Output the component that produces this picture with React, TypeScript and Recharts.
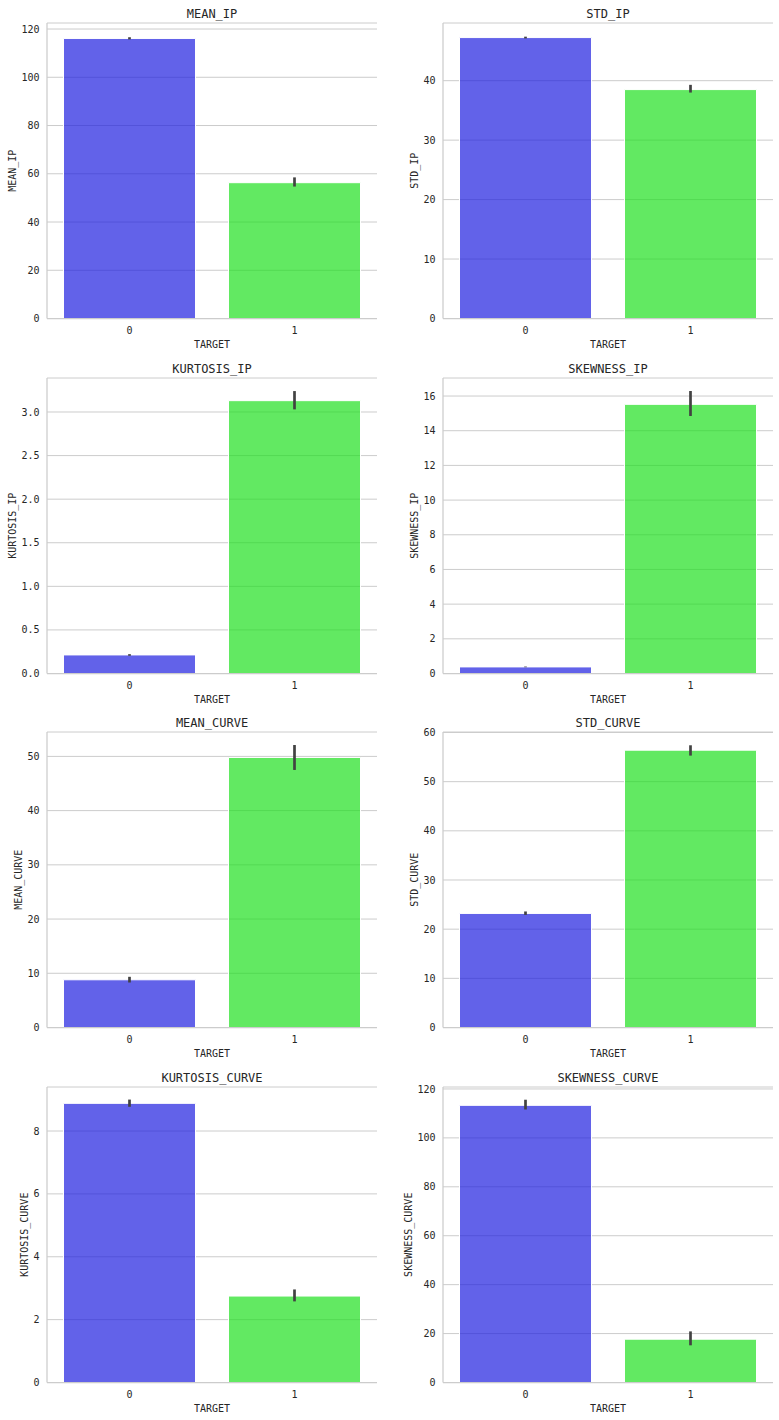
import React from "react";
import { BarChart, Bar, Cell, XAxis, YAxis, CartesianGrid, ErrorBar } from "recharts";

// class labels on the x axis
const TARGETS = ["0", "1"];

// one panel per feature
const FEATURES = [
  "MEAN_IP",
  "STD_IP",
  "KURTOSIS_IP",
  "SKEWNESS_IP",
  "MEAN_CURVE",
  "STD_CURVE",
  "KURTOSIS_CURVE",
  "SKEWNESS_CURVE",
];

// bar heights (mean) for TARGET = 0 and TARGET = 1
const MEAN_0 = [116.1, 47.25, 0.213, 0.38, 8.8, 23.2, 8.88, 113.3];
const MEAN_1 = [56.3, 38.5, 3.13, 15.52, 49.8, 56.4, 2.75, 17.7];

// confidence interval ends
const CI_LOW_0 = [115.7, 47.1, 0.203, 0.36, 8.3, 22.9, 8.77, 111.6];
const CI_HIGH_0 = [116.6, 47.4, 0.222, 0.4, 9.35, 23.6, 9.0, 115.6];
const CI_LOW_1 = [54.7, 38.0, 3.03, 14.85, 47.5, 55.3, 2.58, 15.2];
const CI_HIGH_1 = [58.5, 39.3, 3.24, 16.29, 52.1, 57.4, 2.96, 20.9];

// y axis upper limits and tick labels
const Y_MAX = [122.5, 49.7, 3.39, 17.04, 54.5, 60.1, 9.4, 120.8];
const Y_TICKS = [
  [0, 20, 40, 60, 80, 100, 120],
  [0, 10, 20, 30, 40],
  [0, 0.5, 1.0, 1.5, 2.0, 2.5, 3.0],
  [0, 2, 4, 6, 8, 10, 12, 14, 16],
  [0, 10, 20, 30, 40, 50],
  [0, 10, 20, 30, 40, 50, 60],
  [0, 2, 4, 6, 8],
  [0, 20, 40, 60, 80, 100, 120],
];
const TICK_DECIMALS = [0, 0, 1, 0, 0, 0, 0, 0];

const FONT = '"DejaVu Sans Mono", monospace';
const INK = "#262626";
const GRID = "#cccccc";
const BAR_COLORS = ["#2020df", "#20df20"];

const COL_X = [0, 390];
const CHART_W = [390, 389];
const PLOT_LEFT = [47, 53];
const PLOT_RIGHT_PAD = [13, 6];
const ROW_TOP = [23.3, 377.8, 732.3, 1086.8];
const PLOT_H = 295.5;
const TOP_PAD = 23;
const Y_AXIS_W = 44;
const X_AXIS_H = 36;

function FeaturePanel({ index }: { index: number }) {
  const col = index % 2;
  const row = Math.floor(index / 2);
  const data = TARGETS.map((t, k) => {
    const mean = k === 0 ? MEAN_0[index] : MEAN_1[index];
    const lo = k === 0 ? CI_LOW_0[index] : CI_LOW_1[index];
    const hi = k === 0 ? CI_HIGH_0[index] : CI_HIGH_1[index];
    return { target: t, mean, ci: [mean - lo, hi - mean] };
  });
  const decimals = TICK_DECIMALS[index];
  const tickText = Y_TICKS[index].map((v) => v.toFixed(decimals));
  const longest = Math.max(...tickText.map((s) => s.length));
  const width = CHART_W[col];
  const height = TOP_PAD + PLOT_H + X_AXIS_H + 4;
  const plotW = width - PLOT_LEFT[col] - PLOT_RIGHT_PAD[col];

  return (
    <div
      style={{
        position: "absolute",
        left: COL_X[col],
        top: ROW_TOP[row] - TOP_PAD,
        width,
        height,
      }}
    >
      <div
        style={{
          position: "absolute",
          left: PLOT_LEFT[col],
          top: TOP_PAD - 14.8,
          width: plotW,
          textAlign: "center",
          fontSize: 12,
          lineHeight: "12px",
          color: INK,
        }}
      >
        {FEATURES[index]}
      </div>
      <BarChart
        width={width}
        height={height}
        data={data}
        barCategoryGap="10%"
        margin={{
          top: TOP_PAD,
          right: PLOT_RIGHT_PAD[col],
          bottom: 4,
          left: PLOT_LEFT[col] - Y_AXIS_W,
        }}
      >
        <CartesianGrid vertical={false} stroke={GRID} />
        <XAxis
          dataKey="target"
          height={X_AXIS_H}
          tickLine={false}
          tickSize={0}
          tickMargin={8}
          axisLine={{ stroke: GRID, strokeWidth: 1.25 }}
          tick={{ fontSize: 10, fill: INK }}
          label={{ value: "TARGET", position: "insideBottom", offset: 7, fontSize: 10, fill: INK }}
        />
        <XAxis
          xAxisId="top"
          dataKey="target"
          orientation="top"
          height={0}
          tick={false}
          tickLine={false}
          axisLine={{ stroke: GRID, strokeWidth: 1.25 }}
        />
        <YAxis
          type="number"
          width={Y_AXIS_W}
          domain={[0, Y_MAX[index]]}
          allowDataOverflow
          ticks={Y_TICKS[index]}
          tickFormatter={(v) => Number(v).toFixed(decimals)}
          tickLine={false}
          tickSize={0}
          tickMargin={7.5}
          axisLine={{ stroke: GRID, strokeWidth: 1.25 }}
          tick={{ fontSize: 10, fill: INK }}
          label={{
            value: FEATURES[index],
            angle: -90,
            position: "insideLeft",
            offset: Y_AXIS_W - 17 - 6 * longest,
            fontSize: 10,
            fill: INK,
            style: { textAnchor: "middle" },
          }}
        />
        <YAxis
          yAxisId="right"
          orientation="right"
          width={0}
          tick={false}
          tickLine={false}
          axisLine={{ stroke: GRID, strokeWidth: 1.25 }}
        />
        <Bar dataKey="mean" isAnimationActive={false} stroke="#ffffff" strokeWidth={1}>
          {data.map((d, k) => (
            <Cell key={d.target} fill={BAR_COLORS[k]} fillOpacity={0.7} />
          ))}
          <ErrorBar
            dataKey="ci"
            direction="y"
            width={0}
            strokeWidth={2.7}
            stroke="#424242"
            isAnimationActive={false}
          />
        </Bar>
      </BarChart>
    </div>
  );
}

export default function App() {
  return (
    <div
      style={{
        position: "absolute",
        left: 0,
        top: 0,
        width: 779,
        height: 1420,
        background: "#ffffff",
        fontFamily: FONT,
      }}
    >
      {FEATURES.map((f, i) => (
        <FeaturePanel key={f} index={i} />
      ))}
    </div>
  );
}
